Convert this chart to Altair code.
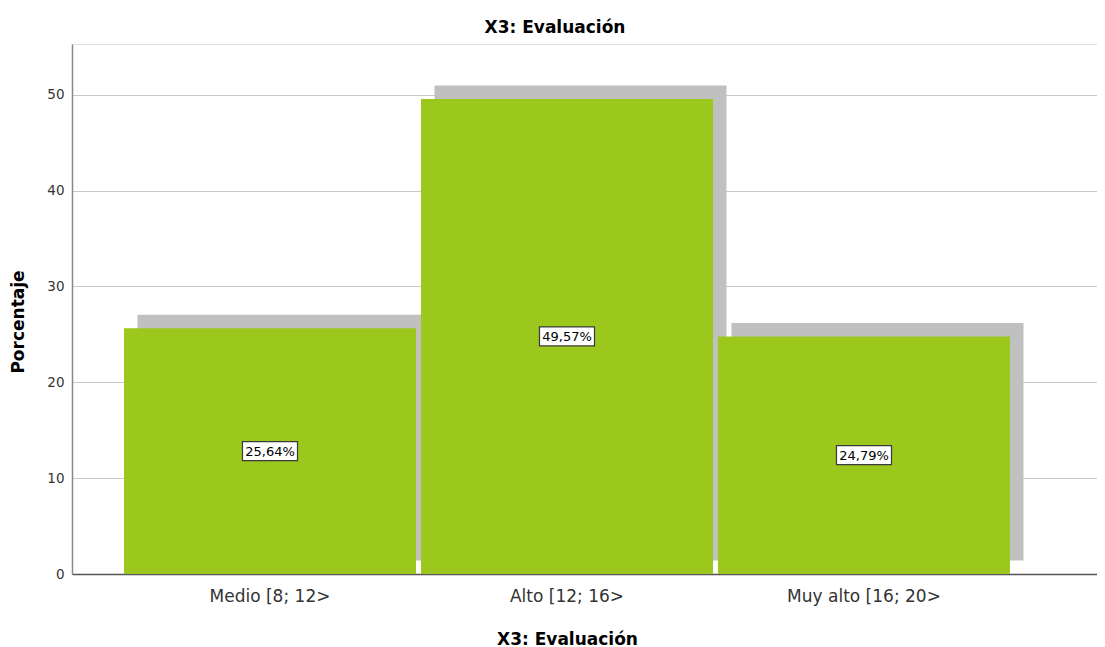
import altair as alt
import pandas as pd

categories = ["Medio [8; 12>", "Alto [12; 16>", "Muy alto [16; 20>"]
percentages = [25.64, 49.57, 24.79]
value_labels = ["25,64%", "49,57%", "24,79%"]
y_ticks = [0, 10, 20, 30, 40, 50]

df = pd.DataFrame({"cat": categories, "pct": percentages, "lab": value_labels})

FONT = "DejaVu Sans"
GREEN = "#9cc71c"
SHADOW = "#c0c0c0"

xscale = alt.Scale(domain=categories, paddingInner=0.0168, paddingOuter=0.234, align=0.374)
yscale = alt.Scale(domain=[0, 55.3], nice=False, zero=True)

xaxis = alt.Axis(
    title="X3: Evaluación", labelAngle=0, labelFont=FONT, labelFontSize=17,
    labelColor="#333333", labelPadding=14, ticks=False, domainColor="#555555",
    domainWidth=1.5, grid=False, titleFont=FONT, titleFontSize=17,
    titleFontWeight="bold", titleColor="#000000", titleX=495, titleY=70,
    titleBaseline="alphabetic", titleAlign="center",
)
yaxis = alt.Axis(
    values=y_ticks, title="Porcentaje", grid=True, gridColor="#c8c8c8",
    gridWidth=1, ticks=False, labelPadding=8, labelFont=FONT, labelFontSize=13.5,
    labelColor="#333333", domainColor="#888888", domainWidth=1.5,
    titleFont=FONT, titleFontSize=17, titleFontWeight="bold", titleColor="#000000",
    titleX=-49, titleY=277.5, titleAngle=270, titleBaseline="alphabetic",
    titleAlign="center",
)

x = alt.X("cat:N", scale=xscale, sort=categories, axis=xaxis)

base = alt.Chart(df)

shadow = base.mark_bar(color=SHADOW, xOffset=13.5, yOffset=-13.5, y2Offset=-13.5).encode(
    x=x, y=alt.Y("pct:Q", scale=yscale, axis=yaxis)
)
bars = base.mark_bar(color=GREEN).encode(
    x=x, y=alt.Y("pct:Q", scale=yscale, axis=yaxis)
)
box = base.transform_calculate(half="datum.pct / 2").mark_point(
    shape="M-1,-0.345L1,-0.345L1,0.345L-1,0.345Z", size=3025, filled=True,
    fill="white", stroke="#3a3a3a", strokeWidth=1.2, opacity=1,
).encode(x=x, y=alt.Y("half:Q", scale=yscale, axis=yaxis))
text = base.transform_calculate(half="datum.pct / 2").mark_text(
    font=FONT, fontSize=13, color="#000000", align="center", baseline="middle", dy=0.5,
).encode(x=x, y=alt.Y("half:Q", scale=yscale, axis=yaxis), text="lab:N")

chart = alt.layer(shadow, bars, box, text).properties(
    width=1025, height=530,
    title=alt.TitleParams(
        "X3: Evaluación", font=FONT, fontSize=17, fontWeight="bold", color="#000000",
        anchor="middle", frame="group", dx=-29.5, dy=17, offset=11, baseline="alphabetic",
    ),
    autosize=alt.AutoSizeParams(type="none"),
    padding={"left": 64, "top": 36, "right": 0, "bottom": 75},
).configure_view(stroke=None).configure(background="white")

chart.save("out.html", embed_options={"renderer": "svg", "actions": False})
